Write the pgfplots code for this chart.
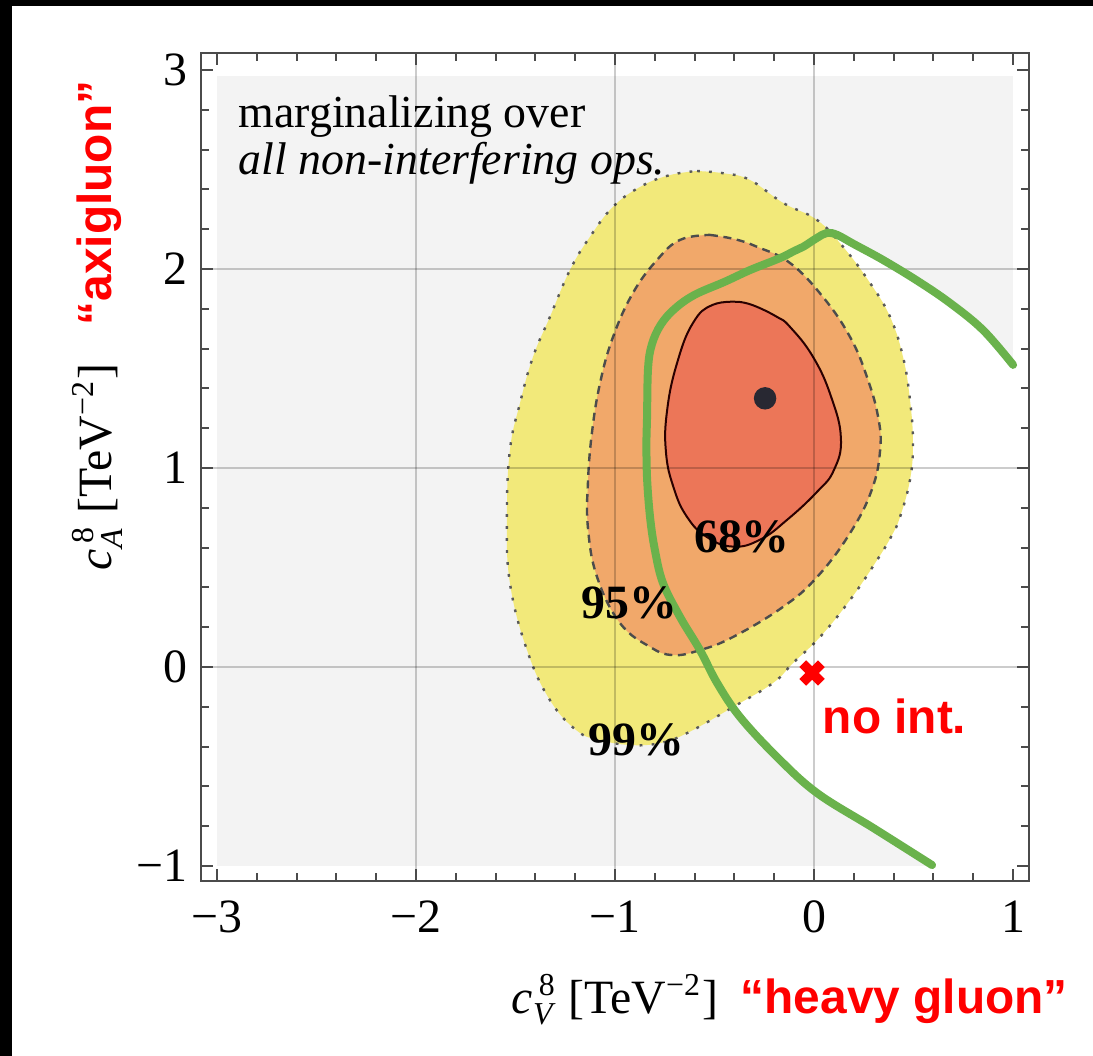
\documentclass[border=0pt]{standalone}
\usepackage{amsmath}
\usepackage{fontspec}
\setmainfont{Liberation Serif}
\newfontfamily\sansbf{Liberation Sans}
\usepackage{pgfplots}
\pgfplotsset{compat=1.18}
\definecolor{bggray}{RGB}{243,243,243}
\definecolor{c99}{RGB}{242,233,122}
\definecolor{c95}{RGB}{241,168,106}
\definecolor{c68}{RGB}{236,118,88}
\definecolor{gline}{RGB}{106,178,76}
\definecolor{axgray}{RGB}{75,75,75}
\definecolor{dotc}{RGB}{40,40,50}
\begin{document}
\begin{tikzpicture}
\useasboundingbox (-50.25bp,-43.75bp) rectangle (223bp,220.25bp);
\fill[white] (-50.25bp,-43.75bp) rectangle (223bp,220.25bp);
\begin{axis}[
  at={(0,0)}, anchor=south west,
  width=207bp, height=207bp, scale only axis,
  xmin=-3.08, xmax=1.08, ymin=-1.075, ymax=3.085,
  xtick={-3,-2,-1,0,1}, xticklabels={−3,−2,−1,0,1},
  ytick={-1,0,1,2,3}, yticklabels={−1,0,1,2,3},
  minor tick num=4,
  major tick length=3bp, minor tick length=2bp,
  tick style={axgray, line width=0.5bp},
  axis line style={axgray, line width=0.5bp},
  tick label style={font=\fontsize{12}{14}\selectfont},
  xticklabel style={yshift=-1.5bp},
  axis on top,
]
% background
\addplot[fill=bggray, draw=none] coordinates {(-3,-1) (1,-1) (1,2.97) (-3,2.97)} -- cycle;
% white region right of the green curve
\addplot[fill=white, draw=none, smooth, tension=0.6] coordinates {
(0.62,-1.075) (0.593,-0.995) (0.30,-0.81) (0.015,-0.633) (-0.186,-0.452) (-0.372,-0.251)
(-0.487,-0.080) (-0.573,0.085) (-0.673,0.251) (-0.759,0.422) (-0.80,0.59)
(-0.824,0.754) (-0.839,0.95) (-0.842,1.126) (-0.839,1.256) (-0.834,1.50)
(-0.815,1.62) (-0.77,1.72) (-0.70,1.80) (-0.60,1.87) (-0.45,1.935)
(-0.32,1.995) (-0.17,2.055) (-0.10,2.09) (-0.055,2.111) (0.015,2.156)
(0.065,2.181) (0.116,2.171) (0.20,2.125) (0.347,2.045) (0.52,1.94)
(0.683,1.829) (0.849,1.693) (1.000,1.518) (1.08,1.42) (1.08,-1.075)} -- cycle;
% 99% region
\addplot[fill=c99, draw=black!65, line width=0.6bp, dash pattern=on 0.7bp off 2.3bp, smooth, tension=0.7] coordinates {
(-0.588,2.492) (-0.45,2.48) (-0.322,2.447) (-0.156,2.332) (0.015,2.246)
(0.146,2.111) (0.281,1.930) (0.382,1.759) (0.447,1.558) (0.482,1.342)
(0.497,1.126) (0.482,0.940) (0.432,0.754) (0.390,0.660) (0.317,0.538)
(0.181,0.337) (0.030,0.151) (-0.106,0.020) (-0.206,-0.080) (-0.407,-0.201)
(-0.638,-0.332) (-0.774,-0.382) (-0.92,-0.392) (-1.075,-0.367) (-1.191,-0.320)
(-1.327,-0.166) (-1.442,0.085) (-1.528,0.422) (-1.543,0.754) (-1.528,1.090)
(-1.477,1.327) (-1.412,1.558) (-1.327,1.759) (-1.226,1.995) (-1.126,2.161)
(-1.010,2.312) (-0.874,2.412) (-0.73,2.47) (-0.588,2.492)} -- cycle;
% 95% region
\addplot[fill=c95, draw=black!70, line width=0.6bp, dash pattern=on 2bp off 1.4bp, smooth, tension=0.7] coordinates {
(-0.523,2.171) (-0.40,2.150) (-0.286,2.111) (-0.121,2.030) (0.045,1.859)
(0.181,1.658) (0.266,1.457) (0.322,1.256) (0.332,1.090)
(0.290,0.890) (0.181,0.673) (0.015,0.452) (-0.156,0.302) (-0.407,0.151)
(-0.573,0.085) (-0.709,0.060) (-0.824,0.101) (-0.975,0.221) (-1.090,0.452)
(-1.136,0.700) (-1.136,0.925) (-1.116,1.176) (-1.075,1.427) (-1.010,1.658)
(-0.910,1.879) (-0.789,2.045) (-0.673,2.146) (-0.523,2.171)} -- cycle;
% 68% region
\addplot[fill=c68, draw=black!60!red!40!black, line width=0.5bp, smooth, tension=0.75] coordinates {
(-0.372,1.834) (-0.30,1.815) (-0.186,1.759) (-0.121,1.709) (-0.005,1.558)
(0.085,1.360) (0.135,1.150) (0.100,0.990) (0.015,0.880) (-0.136,0.739)
(-0.271,0.640) (-0.407,0.605) (-0.538,0.653) (-0.638,0.754) (-0.705,0.90)
(-0.744,1.080) (-0.738,1.291) (-0.688,1.528) (-0.608,1.729) (-0.508,1.820)
(-0.372,1.834)} -- cycle;
% grid lines
\foreach \g in {-2,-1,0} {
  \edef\tmp{\noexpand\draw[black, opacity=0.2, line width=0.45bp] (axis cs:\g,-1.075) -- (axis cs:\g,3.085);}\tmp
}
\foreach \g in {0,1,2} {
  \edef\tmp{\noexpand\draw[black, opacity=0.2, line width=0.45bp] (axis cs:-3.08,\g) -- (axis cs:1.08,\g);}\tmp
}
% green line
\addplot[gline, line width=2bp, line join=round, line cap=round, smooth, tension=0.6] coordinates {
(0.593,-0.995) (0.30,-0.81) (0.015,-0.633) (-0.186,-0.452) (-0.372,-0.251)
(-0.487,-0.080) (-0.573,0.085) (-0.673,0.251) (-0.759,0.422) (-0.80,0.59)
(-0.824,0.754) (-0.839,0.95) (-0.842,1.126) (-0.839,1.256) (-0.834,1.50)
(-0.815,1.62) (-0.77,1.72) (-0.70,1.80) (-0.60,1.87) (-0.45,1.935)
(-0.32,1.995) (-0.17,2.055) (-0.10,2.09) (-0.055,2.111) (0.015,2.156)
(0.065,2.181) (0.116,2.171) (0.20,2.125) (0.347,2.045) (0.52,1.94)
(0.683,1.829) (0.849,1.693) (1.000,1.518)};
% best fit point
\addplot[only marks, mark=*, mark size=2.6bp, mark options={fill=dotc, draw=dotc}] coordinates {(-0.246,1.35)};
% no interference point
\addplot[only marks, mark=x, mark size=3.3bp, mark options={red, line width=2.4bp}] coordinates {(-0.01,-0.03)};
% texts
\node[anchor=base west, inner sep=0, font=\fontsize{11.5}{13}\selectfont] at (axis cs:-2.894,2.709) {marginalizing over};
\node[anchor=base west, inner sep=0, font=\itshape\fontsize{11.5}{13}\selectfont] at (axis cs:-2.894,2.472) {all non-interfering ops.};
\node[anchor=base, inner sep=0, font=\bfseries\fontsize{12}{14}\selectfont] at (axis cs:-0.362,0.573) {68\%};
\node[anchor=base, inner sep=0, font=\bfseries\fontsize{12}{14}\selectfont] at (axis cs:-0.927,0.246) {95\%};
\node[anchor=base, inner sep=0, font=\bfseries\fontsize{12}{14}\selectfont] at (axis cs:-0.894,-0.442) {99\%};
\node[anchor=base west, inner sep=0, text=red, font=\sansbf\bfseries\fontsize{12}{14}\selectfont] at (axis cs:0.040,-0.332) {no int.};
\end{axis}
% axis labels
\node[anchor=base, inner sep=0, font=\fontsize{12}{14}\selectfont] at (103.5bp,-33bp) {$\textit{c}^{\,\text{8}}_{\textit{V}}$ [TeV$^{\text{−2}}$]};
\node[anchor=base west, inner sep=0, text=red, font=\sansbf\bfseries\fontsize{12}{14}\selectfont] at (134.75bp,-33bp) {“heavy gluon”};
\node[rotate=90, anchor=base, inner sep=0, font=\fontsize{12}{14}\selectfont] at (-22.5bp,103.5bp) {$\textit{c}^{\,\text{8}}_{\textit{A}}$ [TeV$^{\text{−2}}$]};
\node[rotate=90, anchor=base west, inner sep=0, text=red, font=\sansbf\bfseries\fontsize{12}{14}\selectfont] at (-22.5bp,138.75bp) {“axigluon”};
% black frame edges
\fill[black] (-50.25bp,-43.75bp) rectangle (-47.25bp,220.25bp);
\fill[black] (-50.25bp,218.75bp) rectangle (223bp,220.25bp);
\end{tikzpicture}
\end{document}
